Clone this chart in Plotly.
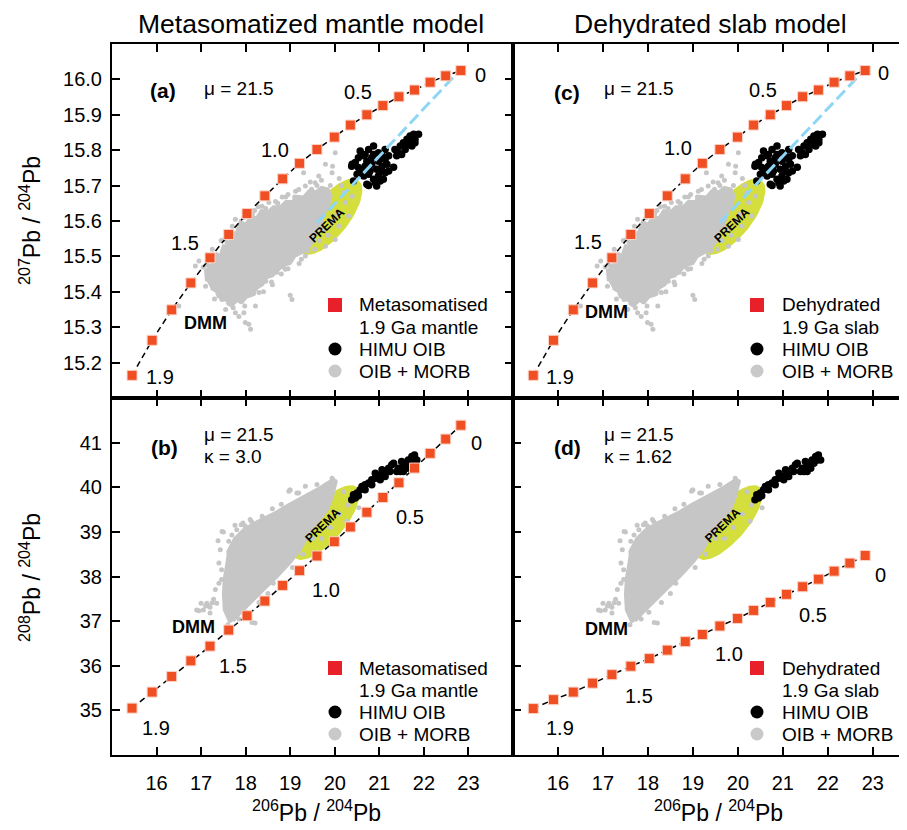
import numpy as np
import plotly.graph_objects as go
from plotly.subplots import make_subplots

# ---------------- data ----------------
ages = [1.9, 1.8, 1.7, 1.6, 1.5, 1.4, 1.3, 1.2, 1.1, 1.0, 0.9, 0.8, 0.7, 0.6, 0.5, 0.4, 0.3, 0.2, 0.1, 0.0]
model_206 = [15.45, 15.90, 16.34, 16.77, 17.20, 17.62, 18.03, 18.43, 18.83, 19.21, 19.60, 19.99,
             20.35, 20.72, 21.08, 21.44, 21.79, 22.14, 22.49, 22.83]
model_207 = [15.164, 15.263, 15.349, 15.425, 15.496, 15.562, 15.621, 15.671, 15.719, 15.763,
             15.802, 15.837, 15.871, 15.900, 15.926, 15.951, 15.970, 15.992, 16.010, 16.025]
meta_208 = [35.05, 35.41, 35.76, 36.11, 36.44, 36.80, 37.12, 37.45, 37.80, 38.13,
            38.46, 38.78, 39.11, 39.44, 39.77, 40.10, 40.43, 40.76, 41.08, 41.39]
dehyd_208 = [35.04, 35.24, 35.41, 35.61, 35.80, 35.99, 36.16, 36.35, 36.54, 36.70,
             36.89, 37.06, 37.24, 37.42, 37.60, 37.77, 37.94, 38.12, 38.30, 38.47]

# light-blue reference line (207 panels)
blue_206 = [19.60, 22.65]
blue_207 = [15.595, 16.005]

# HIMU OIB
himu_206a = [20.57, 20.65, 20.76, 20.87, 20.98, 21.06, 21.13, 20.46, 20.53, 20.68, 20.83, 20.94, 21.06, 21.17,
             20.50, 20.65, 20.76, 20.87, 20.98, 21.09, 20.72, 20.91, 21.13, 21.32, 21.21, 20.42, 20.61, 20.83,
             20.98, 21.13, 20.68, 20.79, 21.06, 20.94, 21.02, 20.53, 20.38, 21.21, 20.87, 20.72,
             21.35, 21.47, 21.54, 21.62, 21.69, 21.77, 21.88, 21.65, 21.58, 21.73, 21.43, 21.50, 21.80, 21.69,
             21.39, 21.80, 20.39, 20.76]
himu_207 = [15.798, 15.784, 15.802, 15.812, 15.793, 15.784, 15.774, 15.765, 15.751, 15.755, 15.760, 15.746,
            15.755, 15.760, 15.732, 15.727, 15.732, 15.718, 15.727, 15.718, 15.704, 15.708, 15.736, 15.752,
            15.784, 15.713, 15.741, 15.779, 15.769, 15.802, 15.788, 15.741, 15.741, 15.699, 15.713, 15.779,
            15.755, 15.741, 15.788, 15.769,
            15.802, 15.812, 15.821, 15.831, 15.840, 15.845, 15.845, 15.816, 15.802, 15.812, 15.793, 15.788,
            15.821, 15.826, 15.784, 15.831, 15.760, 15.700]
himu_206b = [20.38, 20.42, 20.50, 20.57, 20.61, 20.68, 20.76, 20.83, 20.91, 20.98, 21.06, 21.13, 21.21, 21.28,
             21.32, 21.43, 21.47, 21.54, 21.58, 21.65, 21.73, 21.79, 21.69, 21.50, 21.39, 21.62, 20.68, 20.83,
             21.02, 21.13, 20.46, 20.53, 20.91, 21.06, 21.24, 21.54, 21.77, 21.84]
himu_208 = [39.721, 39.833, 39.870, 39.944, 40.019, 40.056, 40.093, 40.167, 40.204, 40.242, 40.279, 40.353,
            40.428, 40.502, 40.539, 40.428, 40.353, 40.465, 40.539, 40.613, 40.688, 40.725, 40.539, 40.576,
            40.353, 40.428, 39.944, 40.056, 40.167, 40.242, 39.758, 39.810, 40.316, 40.390, 40.353, 40.353,
            40.613, 40.613]

# OIB + MORB: outline of the dense (saturated) part of the field + scattered samples
core_206a = [17.12, 17.10, 17.22, 17.30, 17.42, 17.50, 17.62, 17.70, 17.80, 17.88, 18.00, 18.10, 18.25,
             18.35, 18.50, 18.62, 18.78, 18.90, 19.05, 19.15, 19.30, 19.42, 19.58, 19.70, 19.85, 19.92,
             19.85, 19.75, 19.70, 19.58, 19.50, 19.38, 19.25, 19.10, 19.00, 18.85, 18.72, 18.60, 18.48,
             18.38, 18.25, 18.15, 18.02, 17.92, 17.80, 17.68, 17.58, 17.45, 17.35, 17.22]
core_207 = [15.430, 15.460, 15.470, 15.500, 15.500, 15.530, 15.530, 15.560, 15.570, 15.600, 15.590, 15.610,
            15.610, 15.630, 15.625, 15.640, 15.640, 15.655, 15.655, 15.670, 15.668, 15.685, 15.683, 15.695,
            15.690, 15.670, 15.640, 15.620, 15.590, 15.570, 15.540, 15.520, 15.510, 15.500, 15.480, 15.475,
            15.460, 15.445, 15.440, 15.420, 15.410, 15.390, 15.385, 15.370, 15.375, 15.360, 15.375, 15.380,
            15.400, 15.410]
oib_206a = [19.79, 20.01, 19.94, 19.56, 19.19, 19.34, 18.82, 18.52, 18.37, 18.67, 17.96, 17.77, 17.70, 17.45,
            17.25, 16.95, 16.87, 17.05, 19.70, 19.45, 18.95, 18.20, 20.10, 19.95, 19.64, 19.30,
            17.10, 17.25, 17.40, 17.47, 17.70, 17.72, 17.77, 17.98, 17.96, 17.99, 18.07, 18.11, 18.22, 18.40,
            18.60, 19.04, 19.00, 18.89, 19.34, 19.79, 16.50, 17.55, 17.85, 18.80, 19.20, 19.55, 17.30,
            20.24, 20.31, 20.09, 20.01, 20.39, 20.15, 20.05, 19.95, 20.20, 19.85, 18.45, 18.05, 17.60,
            17.15, 17.35, 17.58, 17.85, 18.15, 18.45, 18.72, 19.10, 19.48, 19.90, 18.30, 18.95, 19.65,
            17.62, 17.90, 18.58, 19.25, 19.75, 17.38, 17.95, 18.85, 19.40,
            17.18, 17.52, 18.02, 18.28, 18.90, 19.12, 19.60, 17.28, 17.66, 18.18, 18.70, 19.52]
oib_207 = [15.760, 15.793, 15.736, 15.708, 15.689, 15.699, 15.668, 15.652, 15.642, 15.655, 15.610, 15.605,
           15.585, 15.545, 15.520, 15.487, 15.473, 15.470, 15.715, 15.710, 15.675, 15.630, 15.720, 15.755,
           15.727, 15.736,
           15.416, 15.416, 15.388, 15.378, 15.369, 15.355, 15.341, 15.360, 15.341, 15.313, 15.308, 15.294,
           15.360, 15.400, 15.420, 15.378, 15.390, 15.464, 15.501, 15.529, 15.360, 15.350, 15.330, 15.450,
           15.480, 15.520, 15.380,
           15.652, 15.614, 15.586, 15.548, 15.670, 15.700, 15.620, 15.600, 15.680, 15.560, 15.430, 15.395,
           15.560,
           15.475, 15.505, 15.540, 15.585, 15.620, 15.635, 15.650, 15.668, 15.690, 15.700, 15.398, 15.465,
           15.545, 15.368, 15.372, 15.428, 15.492, 15.575, 15.395, 15.385, 15.470, 15.515,
           15.495, 15.548, 15.612, 15.640, 15.668, 15.684, 15.700, 15.445, 15.365, 15.395, 15.455, 15.545]
core_206b = [17.65, 17.52, 17.50, 17.52, 17.58, 17.62, 17.75, 17.95, 18.20, 18.45, 18.70, 18.95, 19.20,
             19.45, 19.65, 19.80, 19.92, 20.02, 19.95, 19.83, 19.60, 19.38, 19.22, 18.99, 18.70, 18.45,
             18.25, 18.00, 17.85, 17.72]
core_208 = [36.96, 37.25, 37.60, 37.95, 38.30, 38.60, 38.85, 39.05, 39.20, 39.32, 39.45, 39.60, 39.73,
            39.86, 39.98, 40.08, 40.15, 40.08, 39.80, 39.49, 39.20, 38.89, 38.59, 38.30, 37.99, 37.75,
            37.54, 37.30, 37.15, 37.00]
oib_206b = [17.50, 17.69, 17.76, 17.94, 18.13, 17.46, 17.46, 17.35, 17.20, 17.05, 16.90, 17.13, 18.21, 18.99,
            19.15, 19.83, 19.96, 17.20, 17.47, 17.62, 17.43, 17.25, 17.17, 18.14, 18.97, 19.19, 19.34, 19.94,
            20.01, 20.54, 20.27, 17.99, 18.37, 17.32, 19.00, 16.95, 17.10, 17.28, 17.80, 18.10, 18.60, 17.40,
            17.40, 20.20, 20.30, 20.10, 19.90, 20.40, 19.70, 18.80, 17.00, 19.60, 18.50, 18.30, 17.60, 17.85,
            18.02, 18.62, 19.05, 19.28, 19.50, 17.38, 17.62, 17.90]
oib_208 = [39.00, 38.93, 39.15, 39.20, 39.23, 38.15, 37.93, 37.40, 37.31, 37.25, 37.25, 37.40, 36.96, 39.94,
           39.87, 40.05, 40.16, 37.18, 39.01, 38.79, 38.60, 37.41, 37.34, 36.97, 39.91, 39.87, 40.02, 40.20,
           40.13, 39.54, 39.24, 39.13, 39.35, 37.71, 39.94, 37.23, 37.34, 37.49, 39.05, 39.28, 39.52, 38.30,
           37.85, 39.90, 39.60, 39.40, 39.10, 39.80, 38.85, 39.62, 37.40, 40.06, 37.62, 37.42, 36.92, 37.05,
           37.20, 37.85, 38.20, 38.50, 38.85, 38.80, 38.55, 39.16]

# PREMA field: centre (data), semi-axes (px), angle (deg)
prema_207 = dict(cx=19.90, cy=15.612, a=46, b=19, ang=52)
prema_208 = dict(cx=19.80, cy=39.21, a=47, b=18, ang=49)

x_ticks = [16, 17, 18, 19, 20, 21, 22, 23]
y207_ticks = [15.2, 15.3, 15.4, 15.5, 15.6, 15.7, 15.8, 15.9, 16.0]
y208_ticks = [35, 36, 37, 38, 39, 40, 41]

# ---------------- layout geometry ----------------
BODY = 8                      # default page margin of the html body
W, H = 907 - BODY, 830 - BODY
ML, MR, MT, MB = 112 - BODY, 0, 44 - BODY, 75
COLW = [401, 394]
ROWH = [354, 357]
XR_L, XR_R = [15, 24], [15, 23.76]
YR_T, YR_B = [15.1, 16.1], [34, 42]

RED = "#F04E23"
GREY = "#C6C6C6"
FONT = "Liberation Sans, Arial, sans-serif"

fig = make_subplots(rows=2, cols=2, column_widths=COLW, row_heights=ROWH,
                    horizontal_spacing=0, vertical_spacing=0)

def ellipse(p, sx, sy, n=90):
    t = np.linspace(0, 2 * np.pi, n)
    th = np.radians(p["ang"])
    u, w = p["a"] * np.cos(t), p["b"] * np.sin(t)
    dx = u * np.cos(th) - w * np.sin(th)
    dy = u * np.sin(th) + w * np.cos(th)
    return p["cx"] + dx / sx, p["cy"] + dy / sy

def panel(row, col, y_model, oib_x, oib_y, core_x, core_y, hx, hy, prema, xr, yr, blue):
    sx = COLW[col - 1] / (xr[1] - xr[0])
    sy = ROWH[row - 1] / (yr[1] - yr[0])
    ex, ey = ellipse(prema, sx, sy)
    fig.add_trace(go.Scatter(x=ex, y=ey, mode="lines", fill="toself", fillcolor="#D4DE3C",
                             line=dict(width=0, color="#D4DE3C"), hoverinfo="skip", showlegend=False),
                  row=row, col=col)
    fig.add_trace(go.Scatter(x=core_x, y=core_y, mode="lines", fill="toself", fillcolor=GREY,
                             line=dict(width=3, color=GREY),
                             hoverinfo="skip", showlegend=False), row=row, col=col)
    fig.add_trace(go.Scatter(x=oib_x, y=oib_y, mode="markers", name="OIB + MORB",
                             marker=dict(size=5, color=GREY), showlegend=False), row=row, col=col)
    fig.add_trace(go.Scatter(x=hx, y=hy, mode="markers", name="HIMU OIB",
                             marker=dict(size=7.5, color="black"), showlegend=False), row=row, col=col)
    if blue:
        fig.add_trace(go.Scatter(x=blue_206, y=blue_207, mode="lines",
                                 line=dict(color="#8FD6F6", width=3, dash="12px,5px"),
                                 hoverinfo="skip", showlegend=False), row=row, col=col)
    fig.add_trace(go.Scatter(x=model_206, y=y_model, mode="lines",
                             line=dict(color="black", width=1.5, dash="6px,4px"),
                             hoverinfo="skip", showlegend=False), row=row, col=col)
    fig.add_trace(go.Scatter(x=model_206, y=y_model, mode="markers", text=ages, name="model",
                             marker=dict(symbol="square", size=10, color=RED,
                                         line=dict(color="#FBD3C6", width=1)),
                             showlegend=False), row=row, col=col)

panel(1, 1, model_207, oib_206a, oib_207, core_206a, core_207, himu_206a, himu_207, prema_207, XR_L, YR_T, True)
panel(1, 2, model_207, oib_206a, oib_207, core_206a, core_207, himu_206a, himu_207, prema_207, XR_R, YR_T, True)
panel(2, 1, meta_208, oib_206b, oib_208, core_206b, core_208, himu_206b, himu_208, prema_208, XR_L, YR_B, False)
panel(2, 2, dehyd_208, oib_206b, oib_208, core_206b, core_208, himu_206b, himu_208, prema_208, XR_R, YR_B, False)

axis_common = dict(showgrid=False, zeroline=False, showline=True, linecolor="black", linewidth=2,
                   ticks="inside", ticklen=8, tickwidth=2, tickcolor="black",
                   tickfont=dict(family=FONT, size=20, color="black"))

for r in (1, 2):
    for c in (1, 2):
        xr = XR_L if c == 1 else XR_R
        fig.update_xaxes(axis_common, range=xr, tickvals=x_ticks, mirror="ticks",
                         showticklabels=(r == 2), ticklabelstandoff=9, row=r, col=c)
fig.update_yaxes(axis_common, range=YR_T, tickvals=y207_ticks, tickformat=".1f", mirror="ticks",
                 ticklabelstandoff=4, row=1, col=1)
fig.update_yaxes(axis_common, range=YR_T, tickvals=y207_ticks, ticks="", showticklabels=False,
                 mirror=False, row=1, col=2)
fig.update_yaxes(axis_common, range=YR_B, tickvals=y208_ticks, mirror=True,
                 ticklabelstandoff=4, row=2, col=1)
fig.update_yaxes(axis_common, range=YR_B, tickvals=y208_ticks, showticklabels=False,
                 mirror=False, row=2, col=2)

ann = []
def A(text, x, y, xref, yref, size=19, bold=False, xanchor="center", yanchor="middle", angle=0):
    if bold:
        text = "<b>" + text + "</b>"
    ann.append(dict(text=text, x=x, y=y, xref=xref, yref=yref, showarrow=False, xanchor=xanchor,
                    yanchor=yanchor, textangle=angle, font=dict(family=FONT, size=size, color="black")))

panels_txt = [
    ("x", "y", "(a)", (16.14, 15.97), ["μ = 21.5"], 17.02, 15.973,
     [("0", 23.26, 16.012), ("0.5", 20.52, 15.964), ("1.0", 18.66, 15.80), ("1.5", 16.64, 15.538), ("1.9", 16.08, 15.159)],
     (17.09, 15.312), (19.83, 15.589)),
    ("x2", "y2", "(c)", (16.20, 15.964), ["μ = 21.5"], 16.98, 15.973,
     [("0", 23.23, 16.018), ("0.5", 20.56, 15.97), ("1.0", 18.67, 15.806), ("1.5", 16.67, 15.541), ("1.9", 16.04, 15.159)],
     (17.07, 15.343), (19.87, 15.589)),
    ("x3", "y3", "(b)", (16.17, 40.90), ["μ = 21.5", "κ = 3.0"], 17.02, 41.19,
     [("0", 23.19, 40.99), ("0.5", 21.69, 39.33), ("1.0", 19.80, 37.70), ("1.5", 17.72, 35.99), ("1.9", 15.99, 34.61)],
     (16.82, 36.87), (19.74, 39.15)),
    ("x4", "y4", "(d)", (16.22, 40.90), ["μ = 21.5", "κ = 1.62"], 16.98, 41.19,
     [("0", 23.16, 38.03), ("0.5", 21.67, 37.14), ("1.0", 19.80, 36.26), ("1.5", 17.80, 35.32), ("1.9", 16.04, 34.61)],
     (17.07, 36.82), (19.67, 39.15)),
]
for xr_, yr_, lab, lp, params, px_, py_, agelabs, dmm, prema in panels_txt:
    A(lab, lp[0], lp[1], xr_, yr_, size=21, bold=True)
    for i, p in enumerate(params):
        yy = py_ - i * 0.49
        A(p, px_, yy, xr_, yr_, size=19, xanchor="left")
    for t, xx, yy in agelabs:
        A(t, xx, yy, xr_, yr_, size=20)
    A("DMM", dmm[0], dmm[1], xr_, yr_, size=18, bold=True)
    A("PREMA", prema[0], prema[1], xr_, yr_, size=12, bold=True, angle=-44)

def PX(px):  # page pixel -> paper
    return (px - BODY - ML) / (W - ML - MR)
def PY(py):
    return (H - MB - (py - BODY)) / (H - MT - MB)

# titles
A("Metasomatized mantle model", PX(311), PY(24), "paper", "paper", size=26.5)
A("Dehydrated slab model", PX(710), PY(24), "paper", "paper", size=26.5)
A("<sup>206</sup>Pb / <sup>204</sup>Pb", PX(316), PY(811), "paper", "paper", size=23)
A("<sup>206</sup>Pb / <sup>204</sup>Pb", PX(718), PY(811), "paper", "paper", size=23)
A("<sup>207</sup>Pb / <sup>204</sup>Pb", PX(30), PY(221), "paper", "paper", size=23, angle=-90)
A("<sup>208</sup>Pb / <sup>204</sup>Pb", PX(30), PY(578), "paper", "paper", size=23, angle=-90)

# legends (symbols as shapes, text as annotations)
shapes = []
leg_sets = [
    (335, 357, 305, ["Metasomatised", "1.9 Ga mantle"]),
    (335, 357, 668, ["Metasomatised", "1.9 Ga mantle"]),
    (757, 780, 305, ["Dehydrated", "1.9 Ga slab"]),
    (757, 780, 668, ["Dehydrated", "1.9 Ga slab"]),
]
for sxp, txp, y0, lines in leg_sets:
    rows_y = [y0, y0 + 22, y0 + 44, y0 + 66]
    texts = lines + ["HIMU OIB", "OIB + MORB"]
    for ty, tt in zip(rows_y, texts):
        A(tt, PX(txp), PY(ty), "paper", "paper", size=19, xanchor="left")
    shapes.append(dict(type="rect", xref="paper", yref="paper", xsizemode="pixel", ysizemode="pixel",
                       xanchor=PX(sxp), yanchor=PY(rows_y[0]), x0=-7, x1=7, y0=-7, y1=7,
                       fillcolor="#E8202A", line=dict(width=0)))
    shapes.append(dict(type="circle", xref="paper", yref="paper", xsizemode="pixel", ysizemode="pixel",
                       xanchor=PX(sxp), yanchor=PY(rows_y[2]), x0=-6.5, x1=6.5, y0=-6.5, y1=6.5,
                       fillcolor="black", line=dict(width=0)))
    shapes.append(dict(type="circle", xref="paper", yref="paper", xsizemode="pixel", ysizemode="pixel",
                       xanchor=PX(sxp), yanchor=PY(rows_y[3]), x0=-6.5, x1=6.5, y0=-6.5, y1=6.5,
                       fillcolor="#C9C9C9", line=dict(width=0)))

fig.update_layout(width=W, height=H, margin=dict(l=ML, r=MR, t=MT, b=MB, pad=0),
                  paper_bgcolor="white", plot_bgcolor="white", showlegend=False,
                  annotations=ann, shapes=shapes, font=dict(family=FONT, color="black"))

fig.write_html("out.html")
